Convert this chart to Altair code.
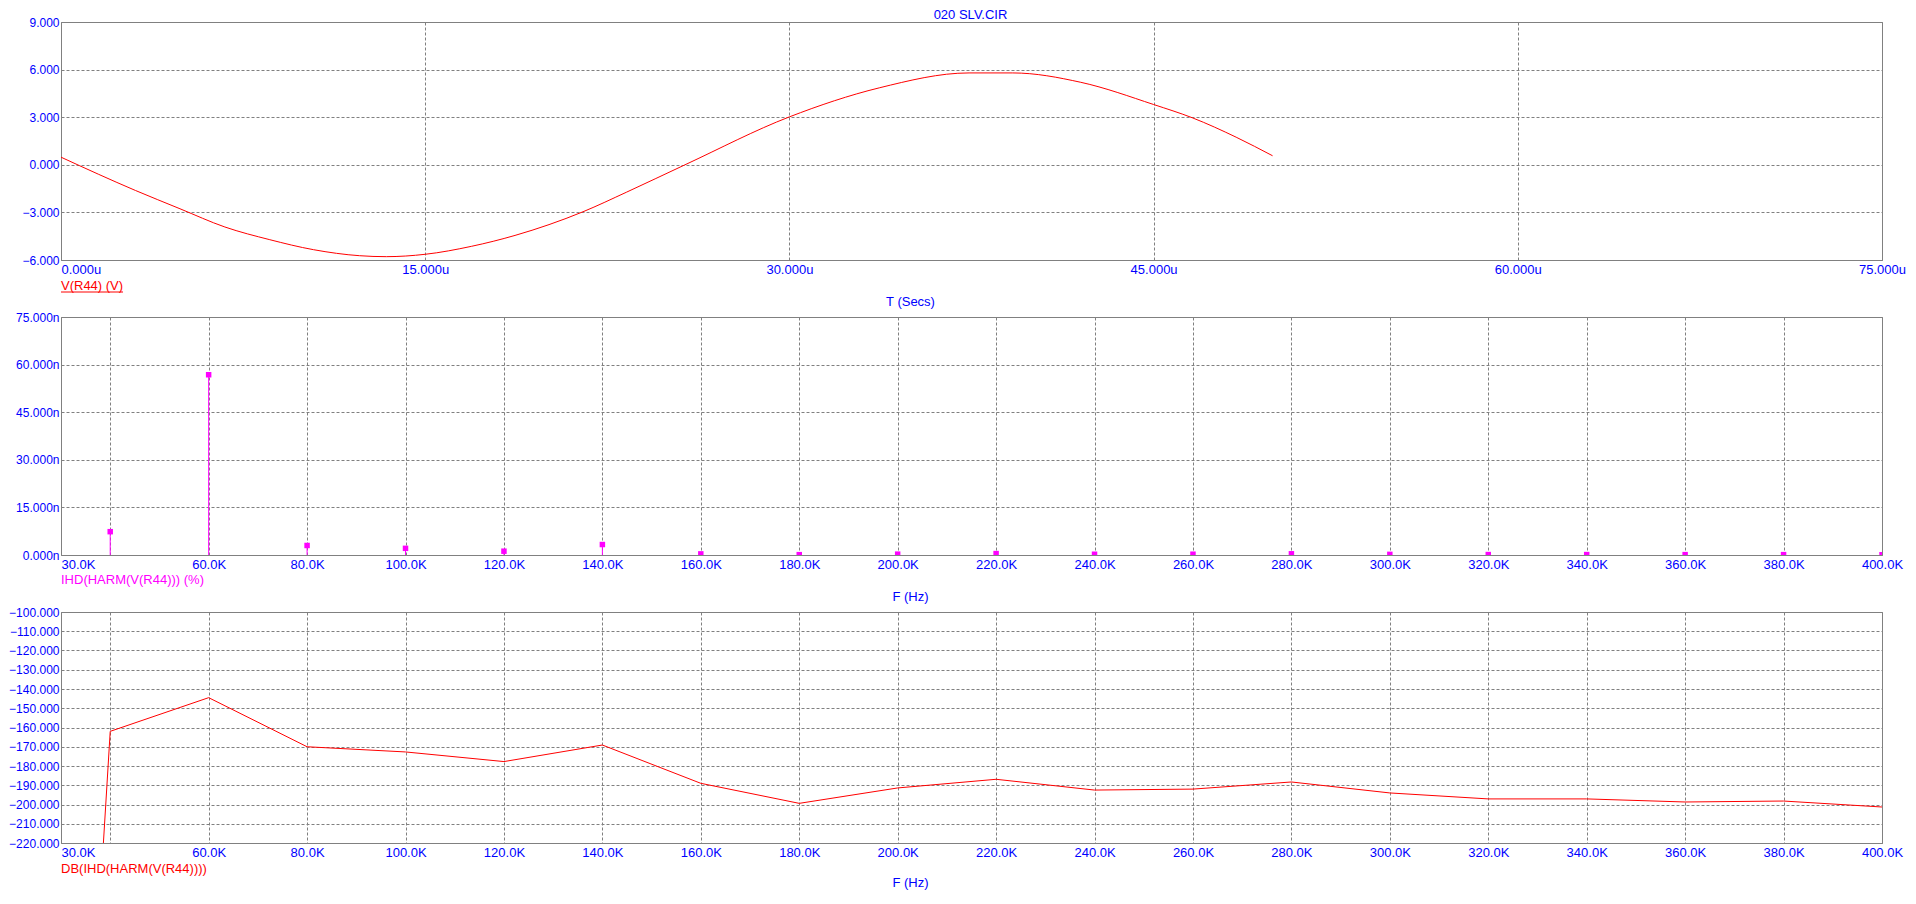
import altair as alt
import pandas as pd

# ---------------- data ----------------
# Panel 1: transient V(R44) (time in microseconds, volts)
t_us = [0.0, 3.07, 4.9, 6.75, 8.6, 10.4, 12.3, 13.4, 15.0, 16.9, 18.7, 21.5,
        23.3, 25.7, 30.0, 33.7, 37.4, 39.2, 42.0, 45.0, 46.6, 48.4, 49.9]
v_r44 = [0.48, -1.62, -2.77, -3.92, -4.72, -5.35, -5.73, -5.79, -5.64, -5.14, -4.45, -2.96,
         -1.72, 0.0, 3.02, 4.85, 5.79, 5.79, 5.2, 3.8, 2.96, 1.74, 0.57]

# Panel 2: IHD of harmonics (values in n%)
harm_freq = [40000, 60000, 80000, 100000, 120000, 140000, 160000, 180000, 200000, 220000,
             240000, 260000, 280000, 300000, 320000, 340000, 360000, 380000, 400000]
ihd_n = [7.35, 56.8, 3.0, 2.1, 1.2, 3.3, 0.35, 0.11, 0.27, 0.45,
         0.24, 0.25, 0.38, 0.2, 0.14, 0.14, 0.12, 0.12, 0.09]

# Panel 3: DB(IHD) (first point far below the visible range)
db_freq = [20000, 40000, 60000, 80000, 100000, 120000, 140000, 160000, 180000, 200000,
           220000, 240000, 260000, 280000, 300000, 320000, 340000, 360000, 380000, 400000]
db_ihd = [-1000.0, -162.0, -144.5, -170.0, -172.7, -177.7, -169.1, -189.0, -199.4, -191.4,
          -186.9, -192.5, -192.0, -188.3, -194.0, -197.1, -197.1, -198.7, -198.2, -201.3]

# texts and ticks
title_text = ["020 SLV.CIR"]
trace1_label = ["V(R44) (V)"]
trace2_label = ["IHD(HARM(V(R44))) (%)"]
trace3_label = ["DB(IHD(HARM(V(R44))))"]
t_title = "T (Secs)"
f_title = "F (Hz)"

t_ticks = [0, 15, 30, 45, 60, 75]
v_ticks = [-6, -3, 0, 3, 6, 9]
f_ticks = [30000, 40000, 60000, 80000, 100000, 120000, 140000, 160000, 180000, 200000,
           220000, 240000, 260000, 280000, 300000, 320000, 340000, 360000, 380000, 400000]
ihd_ticks = [0, 15, 30, 45, 60, 75]
db_ticks = [-220, -210, -200, -190, -180, -170, -160, -150, -140, -130, -120, -110, -100]

# ---------------- style ----------------
FONT = "Liberation Sans"
BLUE = "#0000FF"
RED = "#FF0000"
MAGENTA = "#FF00FF"
GRAY = "#808080"
W = 1821
H1, H2, H3 = 238, 238, 231
PLOT_LEFT = 60
AXIS_TITLE_X = 909 - PLOT_LEFT


def freq_axis(title_y):
    return alt.Axis(
        values=f_ticks,
        labelExpr="datum.value == 40000 ? '' : format(datum.value / 1000, '.1f') + 'K'",
        labelAlign={"condition": {"test": "datum.value == 30000", "value": "left"}, "value": "center"},
        labelFlush=False,
        labelOverlap=False,
        labelPadding=3.5,
        title=f_title,
        titleX=AXIS_TITLE_X,
        titleY=title_y,
        titleAlign="center",
        titleBaseline="top",
    )


def trace_label(texts, color, y):
    return alt.Chart(pd.DataFrame({"s": texts})).mark_text(
        align="left", baseline="top", color=color, font=FONT, fontSize=13
    ).encode(x=alt.value(0), y=alt.value(y), text="s:N")


# ---------------- panel 1 ----------------
df1 = pd.DataFrame({"t": t_us, "v": v_r44})
x1 = alt.X(
    "t:Q",
    scale=alt.Scale(domain=[0, 75], nice=False, zero=False),
    axis=alt.Axis(
        values=t_ticks,
        labelExpr="format(datum.value, '.3f') + 'u'",
        labelAlign={"condition": {"test": "datum.value == 0", "value": "left"}, "value": "center"},
        labelFlush=False,
        labelOverlap=False,
        labelPadding=3,
        title=t_title,
        titleX=AXIS_TITLE_X,
        titleY=35,
        titleAlign="center",
        titleBaseline="top",
    ),
)
y1 = alt.Y("v:Q", scale=alt.Scale(domain=[-6, 9], nice=False, zero=False),
           axis=alt.Axis(values=v_ticks, format=".3f", title=None))
line1 = alt.Chart(df1).mark_line(color=RED, strokeWidth=1, interpolate="monotone", clip=True).encode(x=x1, y=y1)
title_mark = alt.Chart(pd.DataFrame({"s": title_text})).mark_text(
    align="center", baseline="top", color=BLUE, font=FONT, fontSize=13
).encode(x=alt.value(909.5), y=alt.value(-13), text="s:N")
lab1 = trace_label(trace1_label, RED, H1 + 20)
underline1 = alt.Chart(pd.DataFrame({"s": trace1_label})).mark_rule(color=RED, strokeWidth=1).encode(
    x=alt.value(0), x2=alt.value(62), y=alt.value(H1 + 32)
)
p1 = alt.layer(line1, title_mark, lab1, underline1).properties(width=W, height=H1)

# ---------------- panel 2 ----------------
df2 = pd.DataFrame({"f": harm_freq, "ihd": ihd_n})
x2 = alt.X("f:Q", scale=alt.Scale(domain=[30000, 400000], nice=False, zero=False), axis=freq_axis(35))
y2 = alt.Y("ihd:Q", scale=alt.Scale(domain=[0, 75], nice=False, zero=False),
           axis=alt.Axis(values=ihd_ticks, labelExpr="format(datum.value, '.3f') + 'n'", title=None))
stems = alt.Chart(df2).mark_rule(color=MAGENTA, strokeWidth=1, clip=True).encode(
    x=x2, y=y2, y2=alt.datum(0)
)
squares = alt.Chart(df2).mark_square(color=MAGENTA, size=30, opacity=1, clip=True).encode(x=x2, y=y2)
lab2 = trace_label(trace2_label, MAGENTA, H2 + 19)
p2 = alt.layer(stems, squares, lab2).properties(width=W, height=H2)

# ---------------- panel 3 ----------------
df3 = pd.DataFrame({"f": db_freq, "db": db_ihd})
x3 = alt.X("f:Q", scale=alt.Scale(domain=[30000, 400000], nice=False, zero=False), axis=freq_axis(33))
y3 = alt.Y("db:Q", scale=alt.Scale(domain=[-220, -100], nice=False, zero=False),
           axis=alt.Axis(values=db_ticks, format=".3f", title=None))
line3 = alt.Chart(df3).mark_line(color=RED, strokeWidth=1, clip=True).encode(x=x3, y=y3)
lab3 = trace_label(trace3_label, RED, H3 + 20)
p3 = alt.layer(line3, lab3).properties(width=W, height=H3)

chart = (
    alt.vconcat(p1, p2, p3, spacing=57, bounds="flush")
    .properties(padding={"left": 0, "top": 0, "right": 0, "bottom": 0}, background="white")
    .configure_view(stroke=GRAY, strokeWidth=1)
    .configure_axis(
        grid=True,
        gridColor=GRAY,
        gridDash=[3, 2],
        gridOpacity=1,
        gridWidth=1,
        domain=False,
        ticks=False,
        labelColor=BLUE,
        labelFont=FONT,
        labelFontSize=13,
        titleColor=BLUE,
        titleFont=FONT,
        titleFontSize=13,
        titleFontWeight="normal",
    )
    .configure_axisY(labelPadding=2, labelFontSize=12)
)

chart.save("out.html", embed_options={"renderer": "svg", "actions": False})
